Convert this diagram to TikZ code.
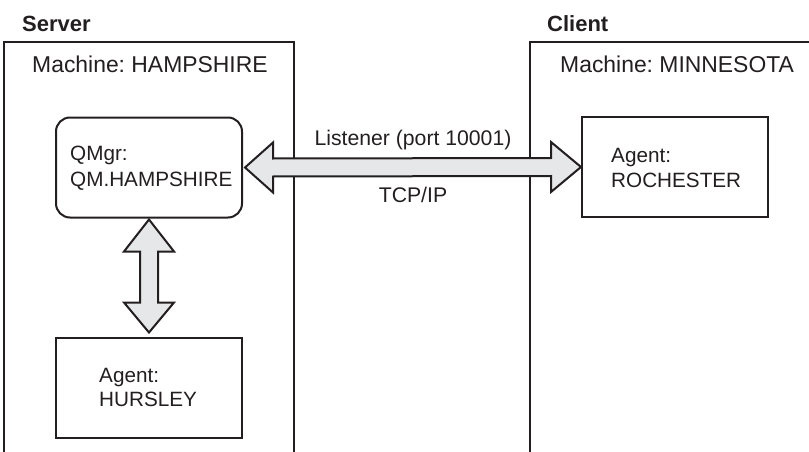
\documentclass[tikz,border=0pt]{standalone}
\usepackage{fontspec}
\setmainfont{Liberation Sans}
\frenchspacing
\usetikzlibrary{calc}
\definecolor{ink}{HTML}{231F20}
\definecolor{arrowfill}{HTML}{E6E7E8}
\tikzset{
  frame/.style={draw=ink, line width=1.4pt},
  box/.style={draw=ink, line width=2pt, minimum width=186pt, minimum height=100pt, inner sep=0pt},
  qbox/.style={box, rounded corners=14pt},
  fatarrow/.style={draw=ink, fill=arrowfill, line width=2pt, line join=miter},
  lbl/.style={anchor=base west, inner sep=0pt, text=ink, font=\fontsize{20.7}{25}\selectfont},
  mlbl/.style={lbl, font=\fontsize{22.9}{27}\selectfont},
  title/.style={lbl, font=\fontsize{22}{26}\selectfont\bfseries},
  clbl/.style={lbl, anchor=base, font=\fontsize{21.2}{25}\selectfont}
}
\begin{document}
\begin{tikzpicture}[x=1pt,y=-1pt]
\useasboundingbox (0,0) rectangle (809,452);
% machine frames (open at the bottom)
\draw[frame] (4,453) -- (4,42) -- (294,42) -- (294,453);
\draw[frame] (530,453) -- (530,42) -- (812,42);
% titles
\node[title] (server) at (22,31.5) {Server};
\node[title] (client) at (547,31.5) {Client};
\node[mlbl] (mhamp) at (32,72.3) {Machine: HAMPSHIRE};
\node[mlbl] (mminn) at (560,72.3) {Machine: MINNESOTA};
% boxes
\node[qbox] (qm) at (149,167.5) {};
\node[box] (roch) at (675,167) {};
\node[box] (hurs) at (149,387.5) {};
% box texts
\node[lbl] (qmt1) at (70,160.7) {QMgr:};
\node[lbl] (qmt2) at (70,186.7) {QM.HAMPSHIRE};
\node[lbl] (rot1) at (611,162) {Agent:};
\node[lbl] (rot2) at (611,187.5) {ROCHESTER};
\node[lbl] (hut1) at (99,382.7) {Agent:};
\node[lbl] (hut2) at (99,406.7) {HURSLEY};
% connection labels
\node[clbl] (listener) at (413,145) {Listener (port 10001)};
\node[clbl] (tcp) at (413,202) {TCP/IP};
% horizontal double arrow
\coordinate (hl) at ($(qm.east)+(2,0)$);
\coordinate (hr) at (roch.west);
\draw[fatarrow] (hl) -- ++(28,-25) -- ++(0,16) -- ($(hr)+(-30,-9)$) -- ++(0,-16)
  -- (hr) -- ++(-30,25) -- ++(0,-16) -- ($(hl)+(28,9)$) -- ++(0,16) -- cycle;
% vertical double arrow
\coordinate (vt) at ($(qm.south)+(0,1)$);
\coordinate (vb) at ($(hurs.north)+(0,-4)$);
\draw[fatarrow] (vt) -- ++(25,32) -- ++(-16,0) -- ($(vb)+(9,-30)$) -- ++(16,0)
  -- (vb) -- ++(-25,-30) -- ++(16,0) -- ($(vt)+(-9,32)$) -- ++(-16,0) -- cycle;
\end{tikzpicture}
\end{document}
